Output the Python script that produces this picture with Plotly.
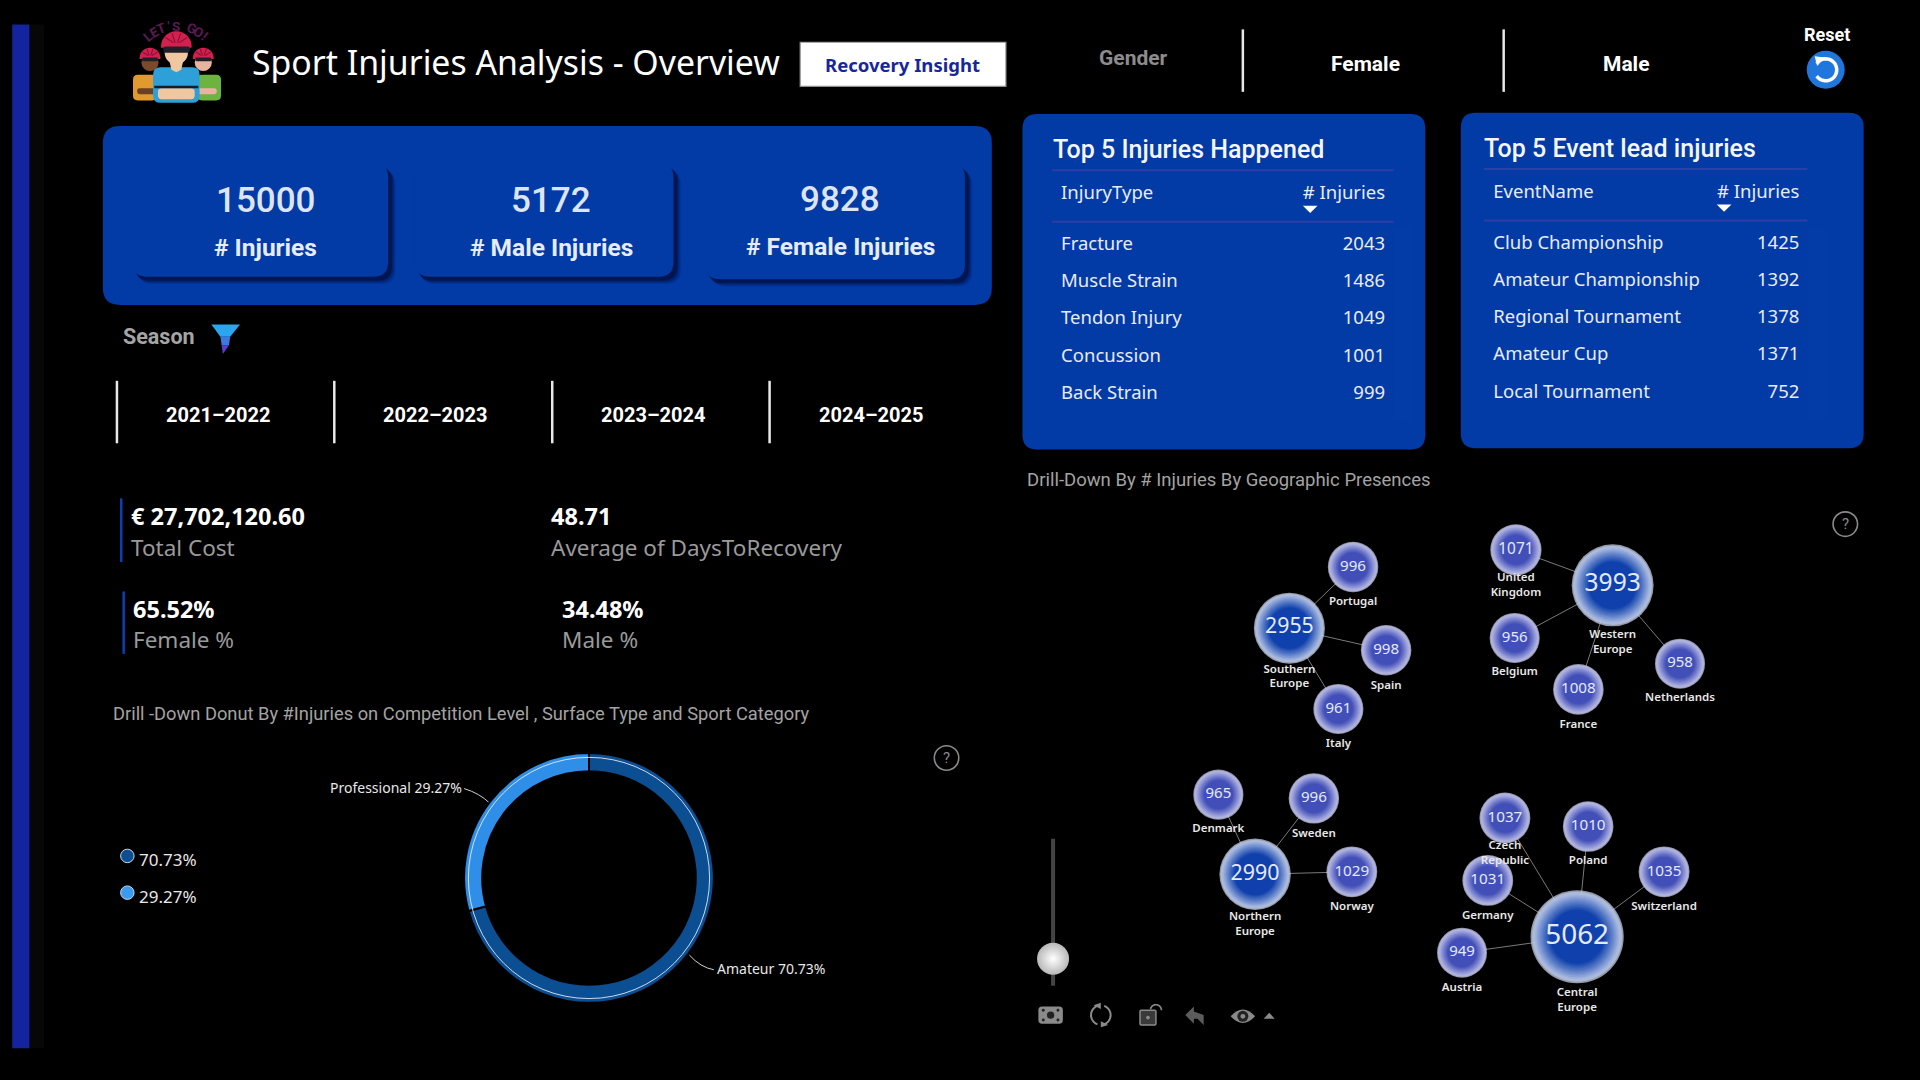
import numpy as np
import plotly.graph_objects as go

# 1. Data
kpi_values = ["15000", "5172", "9828"]
kpi_names = ["# Injuries", "# Male Injuries", "# Female Injuries"]
seasons = ["2021–2022", "2022–2023", "2023–2024", "2024–2025"]

injury_types = ["Fracture", "Muscle Strain", "Tendon Injury", "Concussion", "Back Strain"]
injury_counts = [2043, 1486, 1049, 1001, 999]
event_names = ["Club Championship", "Amateur Championship", "Regional Tournament", "Amateur Cup", "Local Tournament"]
event_counts = [1425, 1392, 1378, 1371, 752]

donut_levels = ["Amateur", "Professional"]
donut_shares = [70.73, 29.27]

regions = ["Southern<br>Europe", "Western<br>Europe", "Northern<br>Europe", "Central<br>Europe"]
region_values = [2955, 3993, 2990, 5062]
countries = ["Portugal", "Spain", "Italy",
             "United<br>Kingdom", "Belgium", "France", "Netherlands",
             "Denmark", "Sweden", "Norway",
             "Czech<br>Republic", "Poland", "Switzerland", "Germany", "Austria"]
country_values = [996, 998, 961, 1071, 956, 1008, 958, 965, 996, 1029, 1037, 1010, 1035, 1031, 949]
country_region = [0, 0, 0, 1, 1, 1, 1, 2, 2, 2, 3, 3, 3, 3, 3]

# 2. Where things sit on the page (in a 1568 x 882 page space)
region_x = [1053, 1317, 1025, 1288]
region_y = [513, 478, 714, 765]
region_label_y = [553, 525, 755, 817]
country_x = [1105, 1132, 1093, 1238, 1237, 1289, 1372, 995, 1073, 1104, 1229, 1297, 1359, 1215, 1194]
country_y = [463, 531, 579, 449, 521, 563, 542, 649, 652, 712, 668, 675, 712, 719, 778]
country_label_y = [492, 560, 608, 478, 549, 592, 570, 677, 681, 741, 697, 703, 741, 748, 807]

BLUE = "#023aa6"
DIN = "Roboto"
UI = "Noto Sans"
shapes = []
notes = []


def round_rect(x0, y0, x1, y1, r):
    return (f"M{x0+r},{y0} L{x1-r},{y0} Q{x1},{y0} {x1},{y0+r} L{x1},{y1-r} Q{x1},{y1} {x1-r},{y1} "
            f"L{x0+r},{y1} Q{x0},{y1} {x0},{y1-r} L{x0},{y0+r} Q{x0},{y0} {x0+r},{y0} Z")


def add_path(path, fill=None, line=None, width=1, opacity=1):
    shapes.append(dict(type="path", path=path, xref="x", yref="y", fillcolor=fill or "rgba(0,0,0,0)", layer="below",
                       line=dict(color=line or "rgba(0,0,0,0)", width=width), opacity=opacity))


def add_rect(x0, y0, x1, y1, r, fill):
    add_path(round_rect(x0, y0, x1, y1, r), fill=fill)


def add_line(x0, y0, x1, y1, color, width=2):
    shapes.append(dict(type="line", x0=x0, y0=y0, x1=x1, y1=y1, xref="x", yref="y", layer="below",
                       line=dict(color=color, width=width)))


def add_circle(x, y, r, fill=None, line=None, width=1, layer="below"):
    shapes.append(dict(type="circle", x0=x-r, y0=y-r, x1=x+r, y1=y+r, xref="x", yref="y", layer=layer,
                       fillcolor=fill or "rgba(0,0,0,0)", line=dict(color=line or "rgba(0,0,0,0)", width=width)))


def add_poly(points, fill):
    add_path("M" + " L".join(f"{a},{b}" for a, b in points) + " Z", fill=fill)


def arc(x, y, r, a0, a1, n=24):
    # angles in degrees, clockwise from the top
    t = np.radians(np.linspace(a0, a1, n))
    return "M" + " L".join(f"{x + r*np.sin(v):.2f},{y - r*np.cos(v):.2f}" for v in t)


def label(x, y, text, size, color="white", font=DIN, anchor="center", weight=400, angle=0):
    # annotations carry a little padding, take it back on aligned text
    x = x - 2 if anchor == "left" else x + 2 if anchor == "right" else x
    notes.append(dict(x=x, y=y, xref="x", yref="y", text=text, showarrow=False, xanchor=anchor, yanchor="middle",
                      align=anchor if anchor != "center" else "center", textangle=angle,
                      font=dict(family=font, size=size, color=color, weight=weight)))


def helmet(x, y, r):
    add_path(arc(x, y, r, -95, 95) + " Z", fill="#d3204f")
    for a in (-50, -18, 18, 50):
        add_path(arc(x, y, r * 0.92, a, a) + f" L{x + 0.25*r*np.sin(np.radians(a)):.2f},{y - 0.25*r:.2f}",
                 line="#8c1238", width=1.2)


# 3. Page furniture
add_rect(24, 20, 36, 856, 0, "#070707")
add_rect(10, 20, 24, 856, 0, "#13249e")

# logo
for i, ch in enumerate("LET'S GO!"):
    a = -40 + i * 10
    label(144 + 36*np.sin(np.radians(a)), 57 - 36*np.cos(np.radians(a)), ch, 13.5, "#5b1a52", DIN, weight=700, angle=a)
add_circle(122.5, 51, 7, "#7a4a2a")
add_circle(166, 51, 7, "#e8b4a0")
add_rect(108.6, 61, 128, 82, 4, "#e09a2e")
add_rect(161, 61, 180.5, 82, 4, "#6cb33f")
add_rect(112, 72, 128, 77, 2, "#6b3f22")
add_rect(161, 72, 177, 77, 2, "#e8b4a0")
helmet(122.5, 47.5, 8.5)
helmet(166, 47.5, 8.5)
add_rect(116, 47, 129, 50, 1, "#20202a")
add_rect(159.5, 47, 172.5, 50, 1, "#20202a")
add_rect(125, 55, 163, 84, 6, "#2f9fd8")
add_rect(129, 72, 159, 81, 3, "#f0c8a0")
add_path("M126,70 L162,70 L162,72 L126,72 Z", fill="#1a1a2a")
add_poly([(138, 48), (150, 48), (148, 57), (144, 59), (140, 57)], "#f0c8a0")
add_circle(144, 43, 9.5, "#f0c8a0")
helmet(144, 38, 12.5)
add_rect(133.5, 38, 155, 43, 1.5, "#20202a")

label(421, 51, "Sport Injuries Analysis - Overview", 33.8, font=UI)

add_rect(653, 34, 822, 71, 0, "#8e8e8e")
add_rect(654, 35, 821, 70, 0, "white")
label(737, 53, "Recovery Insight", 18.5, "#16279c", UI, weight=700)

label(926, 47, "Gender", 21, "#8c8c8c", DIN, weight=700)
label(1115, 52, "Female", 21, font=DIN, weight=700)
label(1328, 52, "Male", 21, font=DIN, weight=700)
add_line(1015, 24, 1015, 75, "#e8e8e8", 2.5)
add_line(1228, 24, 1228, 75, "#e8e8e8", 2.5)

label(1492, 28, "Reset", 18, font=DIN, weight=700)
add_circle(1491, 57, 15.5, "#1f77dd")
add_path(arc(1491, 57, 9, -55, 235), line="white", width=3.5)
add_poly([(1482, 46), (1490, 47), (1484, 54)], "white")

# KPI panel
add_rect(84, 103, 810, 249, 14, BLUE)
cards = [(108, 133, 317, 226), (339, 133, 550, 226), (576, 133, 788, 228)]
kpi_x = [217, 450, 686]
kpi_y = [164, 164, 163]
for i, (x0, y0, x1, y1) in enumerate(cards):
    for off, alpha in zip([6, 5, 4, 3], [0.12, 0.2, 0.3, 0.45]):
        add_rect(x0 + off - 1, y0 + off, x1 + off, y1 + off, 12, f"rgba(0,10,50,{alpha})")
    add_rect(x0, y0, x1, y1, 12, BLUE)
    label(kpi_x[i], kpi_y[i], kpi_values[i], 35, "#dde5f5", DIN, weight=500)
    label(kpi_x[i], kpi_y[i] + 38, kpi_names[i], 24.5, "#e6ecfa", DIN, weight=700)

# season slicer
label(130, 275, "Season", 21.5, "#a5a5a5", DIN, weight=700)
add_poly([(172.6, 265), (196, 265), (188, 275), (180, 275)], "#2aa5ee")
add_poly([(180, 275), (188, 275), (187, 282), (181, 282)], "#3a78e2")
add_poly([(181, 282), (187, 282), (182, 289)], "#5a3cd2")
season_lines = [95.5, 273, 451, 628.5]
season_x = [178, 355.5, 533.5, 711]
for i, name in enumerate(seasons):
    add_line(season_lines[i], 311, season_lines[i], 362, "#e8e8e8", 2.5)
    label(season_x[i], 339, name, 20, font=DIN, weight=700)

# metric cards
add_line(99, 407, 99, 459, "#0c3fb0", 2.5)
add_line(101, 483, 101, 534, "#0c3fb0", 2.5)
label(107, 421, "€ 27,702,120.60", 23.5, font=UI, anchor="left", weight=700)
label(107, 447, "Total Cost", 22.5, "#9a9a9a", UI, anchor="left")
label(450, 421, "48.71", 23.5, font=UI, anchor="left", weight=700)
label(450, 447, "Average of DaysToRecovery", 22.5, "#9a9a9a", UI, anchor="left")
label(109, 497, "65.52%", 23.5, font=UI, anchor="left", weight=700)
label(109, 522, "Female %", 22.5, "#9a9a9a", UI, anchor="left")
label(459, 497, "34.48%", 23.5, font=UI, anchor="left", weight=700)
label(459, 522, "Male %", 22.5, "#9a9a9a", UI, anchor="left")

label(93, 583, "Drill -Down Donut By #Injuries on Competition Level , Surface Type and Sport Category",
      18.3, "#a3a3a3", DIN, anchor="left")
label(839, 392, "Drill-Down By # Injuries By Geographic Presences", 18.5, "#a3a3a3", DIN, anchor="left")

for hx, hy in [(773, 619), (1507, 428)]:
    add_circle(hx, hy, 10, line="#8a8a8a", width=1.6)
    label(hx, hy, "?", 15, "#8a8a8a", DIN)

# table panels
add_rect(835, 93, 1164, 367, 12, BLUE)
add_rect(1193, 92, 1522, 366, 12, BLUE)
label(860, 122, "Top 5 Injuries Happened", 25, "#f4f6fc", DIN, anchor="left", weight=500)
label(1212, 121, "Top 5 Event lead injuries", 25, "#f4f6fc", DIN, anchor="left", weight=500)
add_line(859, 139, 1138, 139, "#2d3fa6", 2)
add_line(859, 181, 1138, 181, "#2d3fa6", 2)
add_line(1212, 138, 1476, 138, "#2d3fa6", 2)
add_line(1212, 180, 1476, 180, "#2d3fa6", 2)
add_poly([(1064, 168), (1076, 168), (1070, 174)], "white")
add_poly([(1402, 167), (1414, 167), (1408, 173)], "white")

# donut extras
add_path("M379,644 Q392,648 400,656", line="#cfcfcf", width=1)
add_path("M563,780 Q572,790 583,792", line="#cfcfcf", width=1)
add_circle(481, 717, 98.5, line="rgba(235,240,250,0.85)", width=1, layer="above")
legend_y = [699, 729]
legend_colors = ["#0c4e92", "#3a9bef"]
for i in range(2):
    add_circle(104, legend_y[i], 5.5, legend_colors[i], "#c8d8ea", 1)
    label(114, legend_y[i] + 3, f"{donut_shares[i]:.2f}%", 17, "#e8e8e8", UI, anchor="left")
label(377, 643, f"{donut_levels[1]} {donut_shares[1]:.2f}%", 14, "#e8e8e8", UI, anchor="right")
label(586, 791, f"{donut_levels[0]} {donut_shares[0]:.2f}%", 14, "#e8e8e8", UI, anchor="left")

# network toolbar
GREY = "#8a8a8a"
add_line(860, 685, 860, 805, "#444444", 4)
add_rect(848, 822, 868, 836, 3, GREY)
add_circle(858, 829, 3, "#222222")
for dx, dy in [(-6, -4), (6, -4), (-6, 4), (6, 4)]:
    add_circle(858 + dx, 829 + dy, 1.2, "#222222")
add_path(arc(899, 829, 8, 20, 165), line=GREY, width=2)
add_path(arc(899, 829, 8, 200, 345), line=GREY, width=2)
add_poly([(893, 821), (899, 819), (899, 824)], GREY)
add_poly([(905, 837), (899, 839), (899, 834)], GREY)
add_rect(931, 825, 944, 837, 1, "#3a3a3a")
add_path(round_rect(931, 825, 944, 837, 1), line=GREY, width=1.5)
add_path(arc(944, 825, 4.5, -80, 90), line=GREY, width=1.6)
add_circle(937.5, 831, 1.5, GREY)
add_poly([(968, 829), (975, 822), (975, 826), (983, 829), (983, 837), (978, 832), (975, 832), (975, 836)], "#5c5c5c")
add_path("M1005,830 Q1015,819 1025,830 Q1015,841 1005,830 Z", fill=GREY)
add_circle(1015, 830, 4.5, "#222222")
add_circle(1015, 830, 2, GREY)
add_poly([(1032, 832), (1041, 832), (1036.5, 827)], GREY)

# 4. Build the chart
fig = go.Figure()

# donut
ring_r = 102
fig.add_trace(go.Pie(
    labels=donut_levels, values=donut_shares, sort=False, direction="clockwise", rotation=0,
    hole=0.855, textinfo="none", showlegend=False,
    marker=dict(colors=["#0c4e92", "#2f8fe8"], line=dict(color="black", width=2)),
    domain=dict(x=[(481 - ring_r) / 1568, (481 + ring_r) / 1568], y=[1 - (717 + ring_r) / 882, 1 - (717 - ring_r) / 882]),
))

# tables
for names, counts, head, x0, x1, top in [
    (injury_types, injury_counts, "InjuryType", 860, 1138, 144.5),
    (event_names, event_counts, "EventName", 1213, 1476, 143.5),
]:
    fig.add_trace(go.Table(
        domain=dict(x=[x0 / 1568, x1 / 1568], y=[1 - (top + 200) / 882, 1 - top / 882]),
        columnwidth=[0.72, 0.28],
        header=dict(values=[head, "#\u00a0Injuries"], align=["left", "right"], height=51,
                    fill_color="rgba(0,0,0,0)", line=dict(width=0, color="rgba(0,0,0,0)"),
                    font=dict(family=UI, size=18.5, color="#e8ecf8")),
        cells=dict(values=[names, counts], align=["left", "right"], height=37.3,
                   fill_color="rgba(0,0,0,0)", line=dict(width=0, color="rgba(0,0,0,0)"),
                   font=dict(family=UI, size=18.5, color="#e8ecf8")),
    ))

# network edges
edge_x, edge_y = [], []
for i, r in enumerate(country_region):
    edge_x += [region_x[r], country_x[i], None]
    edge_y += [region_y[r], country_y[i], None]
fig.add_trace(go.Scatter(x=edge_x, y=edge_y, mode="lines", line=dict(color="#7a7a7a", width=1),
                         hoverinfo="skip", showlegend=False))


def node_size(v):
    return 40 + 0.0105 * np.array(v)


def mix(a, b, t):
    return "rgb(" + ",".join(str(int(round(p + (q - p) * t))) for p, q in zip(a, b)) + ")"


# soft-edged bubbles: stacked discs going from the pale rim to the solid core
steps = 14
node_sets = [
    (region_x, region_y, region_values, (10, 60, 170), (208, 218, 240)),
    (country_x, country_y, country_values, (63, 76, 182), (205, 207, 238)),
]
for xs, ys, vals, core, rim in node_sets:
    sizes = node_size(vals)
    for k in range(steps):
        t = k / (steps - 1)
        fig.add_trace(go.Scatter(x=xs, y=ys, mode="markers", hoverinfo="skip", showlegend=False,
                                 marker=dict(size=sizes * (1 - 0.42 * t), color=mix(rim, core, t ** 0.85),
                                             line=dict(width=0))))
    fig.add_trace(go.Scatter(x=xs, y=ys, mode="text", text=[str(v) for v in vals],
                             textposition="middle center", showlegend=False,
                             textfont=dict(family=UI, color="#e4eafc", size=sizes * 0.3)))

# network labels
fig.add_trace(go.Scatter(x=region_x + country_x, y=region_label_y + country_label_y, mode="text",
                         text=regions + countries, textposition="middle center", hoverinfo="skip", showlegend=False,
                         textfont=dict(family=UI, color="#e8e8e8", size=11.5, weight=600)))

# slider knob
fig.add_trace(go.Scatter(x=[860], y=[783], mode="markers", hoverinfo="skip", showlegend=False,
                         marker=dict(size=32, color="#b8b8b8", line=dict(width=0),
                                     gradient=dict(type="radial", color="#ffffff"))))

fig.update_layout(
    width=1920, height=1080, margin=dict(l=0, r=0, t=0, b=0),
    paper_bgcolor="black", plot_bgcolor="black", showlegend=False,
    xaxis=dict(range=[0, 1568], visible=False, fixedrange=True),
    yaxis=dict(range=[882, 0], visible=False, fixedrange=True),
    shapes=shapes, annotations=notes,
)

# 5. Save the output
fig.write_html("out.html", config=dict(displayModeBar=False),
               post_script="document.body.style.margin='0';document.body.style.background='black';")
